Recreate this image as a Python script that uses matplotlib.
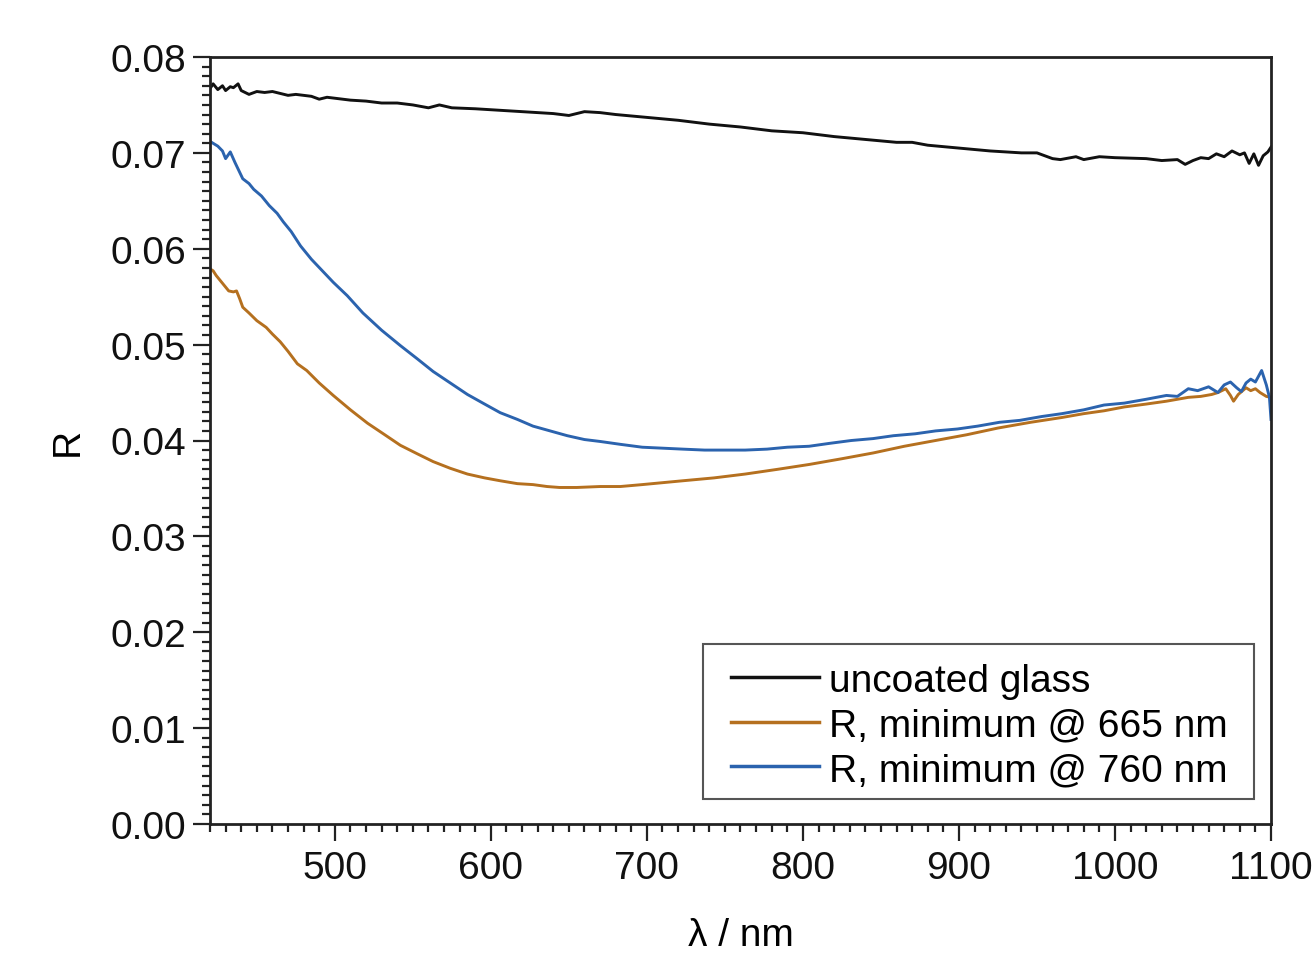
import matplotlib
matplotlib.use("Agg")
import numpy as np
import matplotlib.pyplot as plt
from matplotlib.patches import Rectangle
from matplotlib.ticker import MultipleLocator, FormatStrFormatter
from matplotlib.legend_handler import HandlerLine2D

plt.rcParams['font.family'] = ['Liberation Sans', 'DejaVu Sans']

# --- data ---
glass_x = [420, 422, 425, 428, 430, 433, 435, 438, 440, 445, 450, 455, 460, 465, 470, 475, 480,
           485, 490, 495, 500, 510, 520, 530, 540, 550, 560, 567, 575, 590, 600, 620, 640, 650,
           660, 670, 680, 700, 720, 740, 760, 780, 800, 820, 840, 860, 870, 880, 900, 920, 940,
           950, 960, 965, 975, 980, 990, 1000, 1020, 1030, 1040, 1045, 1050, 1055, 1060, 1065,
           1070, 1075, 1080, 1083, 1086, 1089, 1092, 1095, 1098, 1100]
glass_R = [0.0767, 0.0772, 0.0766, 0.0770, 0.0765, 0.0769, 0.0768, 0.0772, 0.0765, 0.0761, 0.0764,
           0.0763, 0.0764, 0.0762, 0.0760, 0.0761, 0.0760, 0.0759, 0.0756, 0.0758, 0.0757, 0.0755,
           0.0754, 0.0752, 0.0752, 0.0750, 0.0747, 0.0750, 0.0747, 0.0746, 0.0745, 0.0743, 0.0741,
           0.0739, 0.0743, 0.0742, 0.0740, 0.0737, 0.0734, 0.0730, 0.0727, 0.0723, 0.0721, 0.0717,
           0.0714, 0.0711, 0.0711, 0.0708, 0.0705, 0.0702, 0.0700, 0.0700, 0.0694, 0.0693, 0.0696,
           0.0693, 0.0696, 0.0695, 0.0694, 0.0692, 0.0693, 0.0688, 0.0692, 0.0695, 0.0694, 0.0699,
           0.0696, 0.0702, 0.0698, 0.0700, 0.0689, 0.0699, 0.0687, 0.0697, 0.0701, 0.0706]

r665_x = [420, 422, 424, 426, 429, 432, 435, 437, 439, 441, 445, 450, 456, 460, 465, 470, 476, 482,
          490, 499, 510, 521, 532, 542, 553, 563, 574, 585, 596, 606, 617, 627, 636, 644, 655, 670,
          683, 697, 710, 723, 743, 763, 784, 804, 825, 845, 865, 885, 905, 925, 946, 966, 980, 993,
          1006, 1020, 1033, 1047, 1055, 1062, 1066, 1071, 1074, 1076, 1079, 1084, 1087, 1090, 1093,
          1097, 1100]
r665_R = [0.0579, 0.0577, 0.0572, 0.0568, 0.0562, 0.0556, 0.0555, 0.0556, 0.0548, 0.0539, 0.0533,
          0.0525, 0.0518, 0.0511, 0.0503, 0.0493, 0.0480, 0.0473, 0.0460, 0.0447, 0.0432, 0.0418,
          0.0406, 0.0395, 0.0386, 0.0378, 0.0371, 0.0365, 0.0361, 0.0358, 0.0355, 0.0354, 0.0352,
          0.0351, 0.0351, 0.0352, 0.0352, 0.0354, 0.0356, 0.0358, 0.0361, 0.0365, 0.0370, 0.0375,
          0.0381, 0.0387, 0.0394, 0.0400, 0.0406, 0.0413, 0.0419, 0.0424, 0.0428, 0.0431, 0.0435,
          0.0438, 0.0441, 0.0445, 0.0446, 0.0448, 0.0450, 0.0454, 0.0447, 0.0441, 0.0448, 0.0455,
          0.0452, 0.0454, 0.0450, 0.0446, 0.0445]

r760_x = [420, 422, 425, 428, 430, 433, 436, 441, 445, 448, 453, 458, 463, 467, 472, 478, 485, 492,
          499, 508, 518, 530, 542, 553, 563, 574, 585, 596, 606, 617, 627, 638, 649, 660, 670, 683,
          697, 710, 723, 737, 750, 763, 777, 790, 804, 817, 831, 845, 858, 872, 885, 899, 912, 926,
          939, 953, 966, 980, 993, 1006, 1020, 1033, 1040, 1047, 1053, 1060, 1066, 1070, 1074, 1078,
          1081, 1084, 1087, 1090, 1094, 1097, 1099, 1100]
r760_R = [0.0712, 0.0710, 0.0707, 0.0702, 0.0694, 0.0701, 0.0690, 0.0673, 0.0668, 0.0662, 0.0655,
          0.0645, 0.0637, 0.0628, 0.0618, 0.0603, 0.0589, 0.0577, 0.0565, 0.0551, 0.0533, 0.0515,
          0.0499, 0.0485, 0.0472, 0.0460, 0.0448, 0.0438, 0.0429, 0.0422, 0.0415, 0.0410, 0.0405,
          0.0401, 0.0399, 0.0396, 0.0393, 0.0392, 0.0391, 0.0390, 0.0390, 0.0390, 0.0391, 0.0393,
          0.0394, 0.0397, 0.0400, 0.0402, 0.0405, 0.0407, 0.0410, 0.0412, 0.0415, 0.0419, 0.0421,
          0.0425, 0.0428, 0.0432, 0.0437, 0.0439, 0.0443, 0.0447, 0.0446, 0.0454, 0.0452, 0.0456,
          0.0450, 0.0458, 0.0461, 0.0455, 0.0451, 0.0460, 0.0464, 0.0461, 0.0473, 0.0458, 0.0445,
          0.0422]

labels = ["uncoated glass", "R, minimum @ 665 nm", "R, minimum @ 760 nm"]
colors = ["#111111", "#B5701F", "#2B63AE"]

FS = 28


class InsetLineHandler(HandlerLine2D):
    """Legend line that leaves an empty gap on its left side."""
    def get_xdata(self, legend, xdescent, ydescent, width, height, fontsize):
        xd = np.array([-xdescent + 0.18 * width, -xdescent + width])
        return xd, xd


fig = plt.figure(figsize=(13.14, 9.54), dpi=100)
ax = fig.add_axes([210 / 1314, 1 - 825 / 954, (1271 - 210) / 1314, (825 - 58) / 954])

l1, = ax.plot(glass_x, glass_R, color=colors[0], lw=2.1, label=labels[0])
l2, = ax.plot(r665_x, r665_R, color=colors[1], lw=2.1, label=labels[1])
l3, = ax.plot(r760_x, r760_R, color=colors[2], lw=2.1, label=labels[2])

ax.set_xlim(420, 1100)
ax.set_ylim(0, 0.08)
ax.xaxis.set_major_locator(MultipleLocator(100))
ax.xaxis.set_minor_locator(MultipleLocator(10))
ax.yaxis.set_major_locator(MultipleLocator(0.01))
ax.yaxis.set_minor_locator(MultipleLocator(0.001))
ax.yaxis.set_major_formatter(FormatStrFormatter('%.2f'))

for s in ax.spines.values():
    s.set_linewidth(2.0)
    s.set_color('#222222')

ax.tick_params(which='both', direction='out', top=False, right=False, width=1.6, colors='#222222',
               labelcolor='#111111')
ax.tick_params(which='major', length=12, labelsize=FS)
ax.tick_params(axis='y', which='major', pad=5)
ax.tick_params(axis='x', which='major', pad=7)
ax.tick_params(which='minor', length=6)

ax.set_xlabel("λ / nm", fontsize=FS, labelpad=22)
ax.set_ylabel("R", fontsize=FS, labelpad=18)

# legend frame (drawn separately so the padding can match the original)
frame = Rectangle((0.4647, 0.0326), 0.9840 - 0.4647, 0.2347 - 0.0326, transform=ax.transAxes,
                  facecolor='white', edgecolor='#555555', linewidth=1.5, zorder=4)
ax.add_patch(frame)

h = InsetLineHandler()
leg = ax.legend(handles=[l1, l2, l3], loc='lower right', bbox_to_anchor=(0.9694, 0.0326),
                borderaxespad=0, fontsize=FS, frameon=False,
                handlelength=2.75, handletextpad=0.25, labelspacing=0.22, borderpad=0.28,
                handler_map={l1: h, l2: h, l3: h})
leg.set_zorder(5)
for line in leg.get_lines():
    line.set_linewidth(2.5)

fig.savefig("out.png", dpi=100)
